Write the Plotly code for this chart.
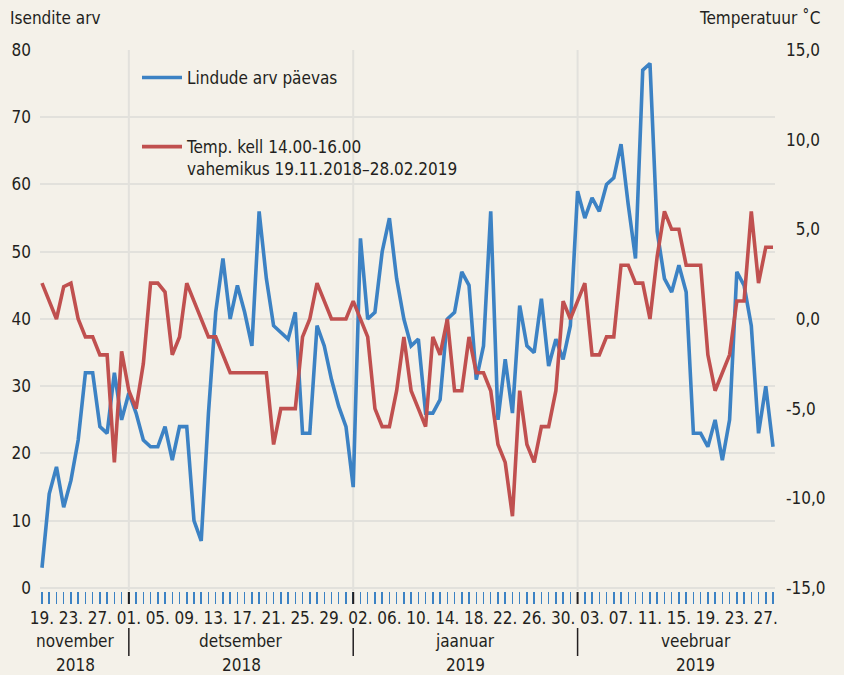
import pandas as pd
import plotly.graph_objects as go

# ---------------- data ----------------
start_date = "2018-11-19"
end_date = "2019-02-28"

birds = [3, 14, 18, 12, 16, 22, 32, 32, 24, 23, 32, 25, 29, 26, 22, 21, 21, 24,
         19, 24, 24, 10, 7, 26, 41, 49, 40, 45, 41, 36, 56, 46, 39, 38, 37, 41,
         23, 23, 39, 36, 31, 27, 24, 15, 52, 40, 41, 50, 55, 46, 40, 36, 37, 26,
         26, 28, 40, 41, 47, 45, 31, 36, 56, 25, 34, 26, 42, 36, 35, 43, 33, 37,
         34, 39, 59, 55, 58, 56, 60, 61, 66, 57, 49, 77, 78, 53, 46, 44, 48, 44,
         23, 23, 21, 25, 19, 25, 47, 45, 39, 23, 30, 21]

temps = [2, 1, 0, 1.8, 2, 0, -1, -1, -2, -2, -8, -1.8, -4, -5, -2.5, 2, 2, 1.5,
         -2, -1, 2, 1, 0, -1, -1, -2, -3, -3, -3, -3, -3, -3, -7, -5, -5, -5,
         -1, 0, 2, 1, 0, 0, 0, 1, 0, -1, -5, -6, -6, -4, -1, -4, -5, -6,
         -1, -2, 0, -4, -4, -1, -3, -3, -4, -7, -8, -11, -4, -7, -8, -6, -6, -4,
         1, 0, 1, 2, -2, -2, -1, -1, 3, 3, 2, 2, 0, 3.5, 6, 5, 5, 3,
         3, 3, -2, -4, -3, -2, 1, 1, 6, 2, 4, 4]

left_tickvals = [0, 10, 20, 30, 40, 50, 60, 70, 80]
right_tickvals = [-15, -10, -5, 0, 5, 10, 15]
right_ticktext = ["-15,0", "-10,0", "-5,0", "\u20070,0", "\u20075,0", "10,0", "15,0"]

month_starts = ["2018-12-01", "2019-01-01", "2019-02-01"]
month_names = ["november", "detsember", "jaanuar", "veebruar"]
month_years = ["2018", "2018", "2019", "2019"]

series_names = ["Lindude arv päevas",
                "Temp. kell 14.00-16.00<br>vahemikus 19.11.2018–28.02.2019"]
left_title = "Isendite arv"
right_title = "Temperatuur ˚C"

# ---------------- layout constants ----------------
W, H = 844, 675
PL, PR, PT, PB = 40, 775, 50, 591
BG = "#F4F1E9"
GRID = "#E2E1DC"
BLUE = "#3C82C4"
RED = "#C0504F"
TXT = "#231F20"
FONT = "DejaVu Sans Condensed, Liberation Sans Narrow, sans-serif"
FS = 17

dates = pd.date_range(start_date, end_date, freq="D")
day_ticks = dates[::4]
day_text = [d.strftime("%d.") for d in day_ticks]

pad = pd.Timedelta(hours=6.6)
x_range = [dates[0] - pad, dates[-1] + pad]

y_left = [-0.45, 80]
scale = 30 / 80
y_right = [-15 + y_left[0] * scale, 15]

label_offsets = [4.6, 27.5, 58.5, 90.3]
label_x = [dates[0] + pd.Timedelta(days=o) for o in label_offsets]

ph = PB - PT
def py(pix):
    return (PB - pix) / ph
pw = PR - PL
def px(pix):
    return (pix - PL) / pw

fig = go.Figure()
fig.add_trace(go.Scatter(x=dates, y=birds, mode="lines", name=series_names[0],
                         line=dict(color=BLUE, width=3.6), legendgroup="a"))
fig.add_trace(go.Scatter(x=dates, y=temps, mode="lines", name=series_names[1],
                         line=dict(color=RED, width=3.6), yaxis="y2", legendgroup="b"))

shapes = []
for m in month_starts:
    shapes.append(dict(type="line", xref="x", yref="paper", x0=m, x1=m,
                       y0=py(PB), y1=1, line=dict(color=GRID, width=2), layer="below"))
    shapes.append(dict(type="line", xref="x", yref="paper", x0=m, x1=m,
                       y0=py(PB + 1), y1=py(PB + 13), line=dict(color=TXT, width=2)))
    shapes.append(dict(type="line", xref="x", yref="paper", x0=m, x1=m,
                       y0=py(628), y1=py(656), line=dict(color=TXT, width=1.5)))

annotations = []
for name, yr, lx in zip(month_names, month_years, label_x):
    annotations.append(dict(x=lx, y=py(641), xref="x", yref="paper", text=name,
                            showarrow=False, xanchor="center", yanchor="middle",
                            font=dict(size=FS, color=TXT, family=FONT)))
    annotations.append(dict(x=lx, y=py(665), xref="x", yref="paper", text=yr,
                            showarrow=False, xanchor="center", yanchor="middle",
                            font=dict(size=FS, color=TXT, family=FONT)))
annotations.append(dict(x=px(8), y=py(18), xref="paper", yref="paper", text=left_title,
                        showarrow=False, xanchor="left", yanchor="middle",
                        font=dict(size=FS, color=TXT, family=FONT)))
annotations.append(dict(x=px(822), y=py(18), xref="paper", yref="paper", text=right_title,
                        showarrow=False, xanchor="right", yanchor="middle",
                        font=dict(size=FS, color=TXT, family=FONT)))

fig.update_layout(
    width=W, height=H,
    margin=dict(l=PL, r=W - PR, t=PT, b=H - PB, pad=0),
    paper_bgcolor=BG, plot_bgcolor=BG,
    font=dict(family=FONT, size=FS, color=TXT),
    showlegend=True,
    hovermode=False,
    legend=dict(x=px(137), y=py(60), xanchor="left", yanchor="top",
                bgcolor="rgba(0,0,0,0)", tracegroupgap=44, valign="top",
                traceorder="grouped", itemwidth=40,
                font=dict(size=FS, color=TXT, family=FONT)),
    xaxis=dict(type="date", range=x_range, showgrid=False, zeroline=False,
               showline=False, tickmode="array", tickvals=list(day_ticks),
               ticktext=day_text, ticks="outside", ticklen=12, tickwidth=1.5,
               tickcolor=BLUE, ticklabelstandoff=0,
               minor=dict(dtick=86400000, tick0=start_date, ticks="outside",
                          ticklen=12, tickwidth=1.5, tickcolor=BLUE, showgrid=False),
               tickfont=dict(size=FS, color=TXT, family=FONT)),
    yaxis=dict(range=y_left, tickmode="array", tickvals=left_tickvals,
               showgrid=True, gridcolor=GRID, gridwidth=2, zeroline=False,
               showline=False, ticks="", ticklabelstandoff=8,
               tickfont=dict(size=FS, color=TXT, family=FONT)),
    yaxis2=dict(range=y_right, overlaying="y", side="right", tickmode="array",
                tickvals=right_tickvals, ticktext=right_ticktext, showgrid=False,
                zeroline=False, showline=False, ticks="", ticklabelstandoff=10,
                tickfont=dict(size=FS, color=TXT, family=FONT)),
    shapes=shapes,
    annotations=annotations,
)

fig.write_html("out.html",
               config={"displayModeBar": False, "staticPlot": True},
               post_script="document.body.style.margin='0';"
                           "document.body.style.background='" + BG + "';")
